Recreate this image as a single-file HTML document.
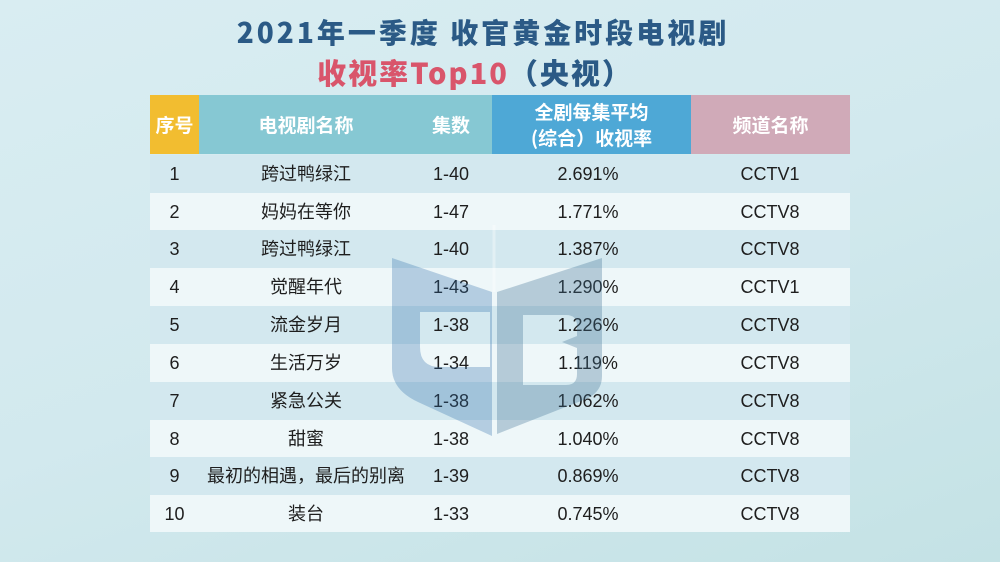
<!DOCTYPE html>
<html><head><meta charset="utf-8">
<style>
*{margin:0;padding:0;box-sizing:border-box}
body{width:1000px;height:562px;overflow:hidden;position:relative;
background:linear-gradient(160deg,#d9edf2 0%,#d2e9ee 50%,#c4e2e5 100%);
font-family:"Liberation Sans","Noto Sans CJK SC",sans-serif}
.t1{position:absolute;left:0;width:966px;top:12px;text-align:center;font-family:"Noto Sans CJK SC",sans-serif;font-weight:900;font-size:28px;letter-spacing:3px;color:#2b5a86;line-height:40px;white-space:nowrap}
.t2{position:absolute;left:0;width:950px;top:52px;text-align:center;font-family:"Noto Sans CJK SC",sans-serif;font-weight:900;font-size:29px;letter-spacing:2px;color:#d9556b;line-height:40px;white-space:nowrap}
.t2 span{color:#2b5a86}
.h{position:absolute;top:95px;height:59px;color:#fff;font-family:"Noto Sans CJK SC",sans-serif;font-weight:700;font-size:19px;display:flex;align-items:center;justify-content:center;text-align:center;line-height:26px}
.row{position:absolute;left:150px;width:700px;height:38px}
.c{position:absolute;top:0;height:38px;line-height:38px;font-size:18px;color:#1e1e1e;text-align:center;white-space:nowrap}
</style></head><body>
<div class="t1">2021年一季度 收官黄金时段电视剧</div>
<div class="t2">收视率Top10<span>（央视）</span></div>

<div class="h" style="left:150px;width:49px;background:#f2bd30">序号</div>
<div class="h" style="left:199px;width:293px;background:#86c8d3"></div>
<div class="h" style="left:230px;width:152px">电视剧名称</div>
<div class="h" style="left:420px;width:62px">集数</div>
<div class="h" style="left:492px;width:199px;background:#4ea8d6;flex-direction:column">全剧每集平均<br>(综合）收视率</div>
<div class="h" style="left:691px;width:159px;background:#d0aab8">频道名称</div>

<div class="row" style="top:155px;background:#d3e8ef">
<div class="c" style="left:0;width:49px">1</div><div class="c" style="left:80px;width:152px">跨过鸭绿江</div><div class="c" style="left:270px;width:62px">1-40</div><div class="c" style="left:388px;width:100px">2.691%</div><div class="c" style="left:570px;width:100px">CCTV1</div></div>
<div class="row" style="top:193px;background:#eef7f9;height:37px">
<div class="c" style="left:0;width:49px">2</div><div class="c" style="left:80px;width:152px">妈妈在等你</div><div class="c" style="left:270px;width:62px">1-47</div><div class="c" style="left:388px;width:100px">1.771%</div><div class="c" style="left:570px;width:100px">CCTV8</div></div>
<div class="row" style="top:230px;background:#d3e8ef">
<div class="c" style="left:0;width:49px">3</div><div class="c" style="left:80px;width:152px">跨过鸭绿江</div><div class="c" style="left:270px;width:62px">1-40</div><div class="c" style="left:388px;width:100px">1.387%</div><div class="c" style="left:570px;width:100px">CCTV8</div></div>
<div class="row" style="top:268px;background:#eef7f9">
<div class="c" style="left:0;width:49px">4</div><div class="c" style="left:80px;width:152px">觉醒年代</div><div class="c" style="left:270px;width:62px">1-43</div><div class="c" style="left:388px;width:100px">1.290%</div><div class="c" style="left:570px;width:100px">CCTV1</div></div>
<div class="row" style="top:306px;background:#d3e8ef">
<div class="c" style="left:0;width:49px">5</div><div class="c" style="left:80px;width:152px">流金岁月</div><div class="c" style="left:270px;width:62px">1-38</div><div class="c" style="left:388px;width:100px">1.226%</div><div class="c" style="left:570px;width:100px">CCTV8</div></div>
<div class="row" style="top:344px;background:#eef7f9">
<div class="c" style="left:0;width:49px">6</div><div class="c" style="left:80px;width:152px">生活万岁</div><div class="c" style="left:270px;width:62px">1-34</div><div class="c" style="left:388px;width:100px">1.119%</div><div class="c" style="left:570px;width:100px">CCTV8</div></div>
<div class="row" style="top:382px;background:#d3e8ef">
<div class="c" style="left:0;width:49px">7</div><div class="c" style="left:80px;width:152px">紧急公关</div><div class="c" style="left:270px;width:62px">1-38</div><div class="c" style="left:388px;width:100px">1.062%</div><div class="c" style="left:570px;width:100px">CCTV8</div></div>
<div class="row" style="top:420px;background:#eef7f9">
<div class="c" style="left:0;width:49px">8</div><div class="c" style="left:80px;width:152px">甜蜜</div><div class="c" style="left:270px;width:62px">1-38</div><div class="c" style="left:388px;width:100px">1.040%</div><div class="c" style="left:570px;width:100px">CCTV8</div></div>
<div class="row" style="top:457px;background:#d3e8ef">
<div class="c" style="left:0;width:49px">9</div><div class="c" style="left:49px;width:214px">最初的相遇，最后的别离</div><div class="c" style="left:270px;width:62px">1-39</div><div class="c" style="left:388px;width:100px">0.869%</div><div class="c" style="left:570px;width:100px">CCTV8</div></div>
<div class="row" style="top:495px;background:#eef7f9;height:37px">
<div class="c" style="left:0;width:49px">10</div><div class="c" style="left:80px;width:152px">装台</div><div class="c" style="left:270px;width:62px">1-33</div><div class="c" style="left:388px;width:100px">0.745%</div><div class="c" style="left:570px;width:100px">CCTV8</div></div>

<svg style="position:absolute;left:0;top:0" width="1000" height="562" viewBox="0 0 1000 562">
<line x1="494" y1="225" x2="494" y2="292" stroke="#ffffff" stroke-opacity="0.35" stroke-width="3"/>
<path fill-rule="evenodd" fill="#2f6ea8" fill-opacity="0.3" d="M392,258 L492,292 L492,436 L418,402 Q392,390 392,368 Z M420,312 L490,312 L490,367 L440,367 Q420,367 420,347 Z"/>
<path fill-rule="evenodd" fill="#3f6f92" fill-opacity="0.32" d="M497,292 L602,258 L602,376 Q602,392 586,399 L497,434 Z M523,315 L566,315 Q577,315 577,326 L577,336 L562,342 L577,348 L577,374 Q577,385 566,385 L523,385 Z"/>
</svg>
</body></html>
